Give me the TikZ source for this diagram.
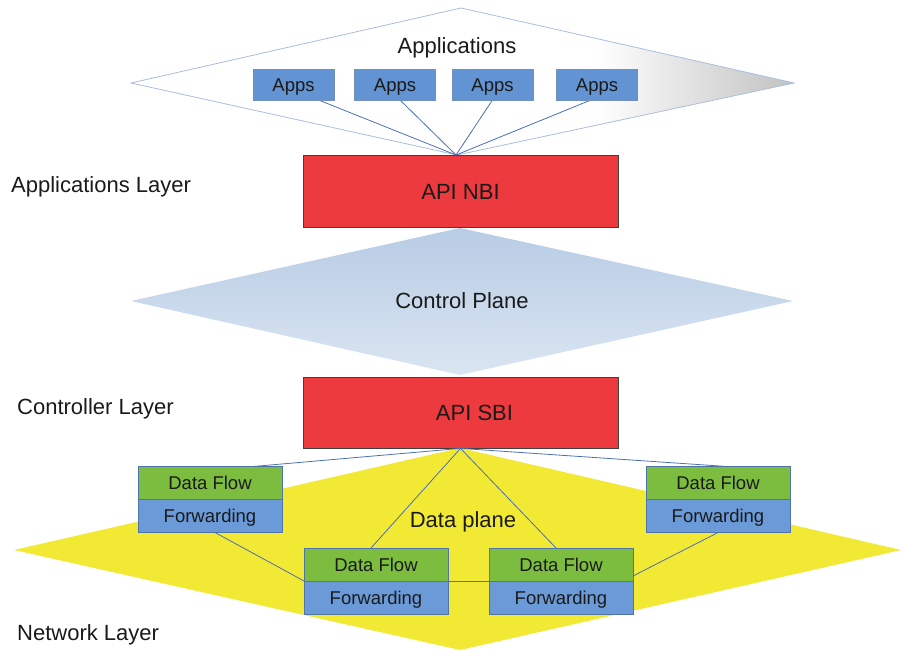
\documentclass[tikz,border=0pt]{standalone}
\usepackage{fontspec}
\setmainfont{Liberation Sans}
\usetikzlibrary{calc}

\definecolor{apiRed}{HTML}{EC3A3E}
\definecolor{appBlue}{HTML}{6293D2}
\definecolor{flowGreen}{HTML}{7CBD40}
\definecolor{fwdBlue}{HTML}{6A9AD8}
\definecolor{boxEdge}{HTML}{4F74A8}
\definecolor{planeYellow}{HTML}{F2E935}
\definecolor{cpTop}{HTML}{B8CCE5}
\definecolor{cpBot}{HTML}{DAE5F1}
\definecolor{appEdge}{HTML}{A9BFDF}
\definecolor{linkBlue}{HTML}{4A6FB5}
\definecolor{txt}{HTML}{1A1A1A}

% white plane that fades to grey only near its right tip
\pgfdeclarehorizontalshading{appfade}{100bp}{color(0bp)=(white); color(60bp)=(white); color(75bp)=(black!24); color(100bp)=(black!24)}

\begin{document}
\begin{tikzpicture}[x=1pt,y=-1pt,
  big/.style={font=\fontsize{22}{26}\selectfont, text=txt, text height=15.8pt, text depth=0pt},
  small/.style={font=\fontsize{18.5}{22}\selectfont, text=txt, text height=13.3pt, text depth=0pt},
  apibox/.style={draw=black!75, line width=0.8pt, fill=apiRed, minimum width=315pt, minimum height=72pt, inner sep=0pt, big},
  appbox/.style={draw=boxEdge!80, line width=0.6pt, fill=appBlue, minimum width=81pt, minimum height=31pt, inner sep=0pt, small},
  flowbox/.style={draw=boxEdge, line width=0.6pt, fill=flowGreen, minimum width=144pt, minimum height=33pt, inner sep=0pt, small},
  fwdbox/.style={draw=boxEdge, line width=0.6pt, fill=fwdBlue, minimum width=144pt, minimum height=33pt, inner sep=0pt, small},
  link/.style={draw=linkBlue, line width=0.8pt},
  layerlabel/.style={anchor=west, inner sep=0pt, big}
]
\useasboundingbox (0,0) rectangle (901,650);

% planes
\path[draw=appEdge, line width=0.8pt, shading=appfade]
  (131,83) -- (461,8) -- (794,83) -- (457,155) -- cycle;
\path[top color=cpTop, bottom color=cpBot]
  (131,301) -- (460,228) -- (793,301) -- (460,375) -- cycle;
\path[fill=planeYellow]
  (14,550) -- (460,448) -- (901,550) -- (460,650) -- cycle;

% plane captions
\node[big] (appcap) at (457,46) {Applications};
\node[big] (cpcap) at (462,301) {Control Plane};
\node[big] (dpcap) at (463,520) {Data plane};

% layer labels
\node[layerlabel] (lapp) at (11,185) {Applications Layer};
\node[layerlabel] (lctl) at (17,407) {Controller Layer};
\node[layerlabel] (lnet) at (17,633) {Network Layer};

% interfaces
\node[apibox] (nbi) at (460.5,191.5) {API NBI};
\node[apibox, minimum height=71pt] (sbi) at (460.5,412.5) {\hspace*{28pt}API SBI};

% application links meet at the top of the northbound interface
\coordinate (hub) at (456,155);
\path (293.5,84.5) coordinate (pa1) (395,84.5) coordinate (pa2)
      (492.5,84.5) coordinate (pa3) (597,84.5) coordinate (pa4);
\draw[link] ($(pa1)+(25,15.5)$) -- (hub);
\draw[link] ($(pa2)+(5,15.5)$) -- (hub);
\draw[link] ($(pa3)+(0,15.5)$) -- (hub);
\draw[link] ($(pa4)+(-6,15.5)$) -- (hub);

% applications
\node[appbox] (a1) at (pa1) {Apps};
\node[appbox] (a2) at (pa2) {Apps};
\node[appbox] (a3) at (pa3) {Apps};
\node[appbox] (a4) at (pa4) {Apps};

% switch positions
\path (210,483) coordinate (p1) (718,483) coordinate (p2)
      (376,564.5) coordinate (p3) (561,564.5) coordinate (p4);

% southbound links and switch interconnects
\draw[link] (sbi.south) -- ($(p1)+(43,-16.5)$);
\draw[link] (sbi.south) -- ($(p2)+(9,-16.5)$);
\draw[link] (sbi.south) -- ($(p3)+(-5,-16.5)$);
\draw[link] (sbi.south) -- ($(p4)+(-5,-16.5)$);
\draw[link] ($(p1)+(5,49.5)$) -- ($(p3)+(-72,16.5)$);
\draw[link] ($(p3)+(72,16.5)$) -- ($(p4)+(-72,16.5)$);
\draw[link] ($(p2)+(0,49.5)$) -- ($(p4)+(72,11.5)$);

% switches
\node[flowbox] (df1) at (p1) {Data Flow};
\node[fwdbox]  (fw1) at ($(p1)+(0,33)$) {Forwarding};
\node[flowbox] (df2) at (p2) {Data Flow};
\node[fwdbox]  (fw2) at ($(p2)+(0,33)$) {Forwarding};
\node[flowbox] (df3) at (p3) {Data Flow};
\node[fwdbox]  (fw3) at ($(p3)+(0,33)$) {Forwarding};
\node[flowbox] (df4) at (p4) {Data Flow};
\node[fwdbox]  (fw4) at ($(p4)+(0,33)$) {Forwarding};
\end{tikzpicture}
\end{document}
